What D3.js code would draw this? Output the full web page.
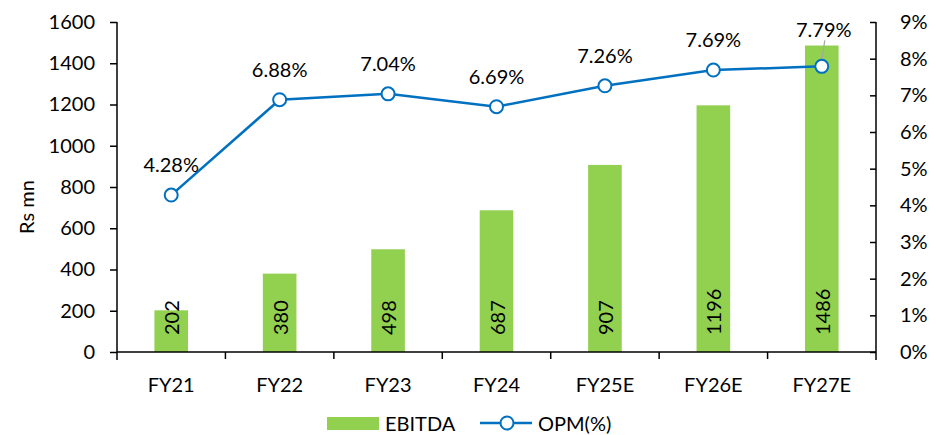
<!DOCTYPE html>
<html>
<head>
<meta charset="utf-8">
<script src="https://cdn.jsdelivr.net/npm/d3@7"></script>
<style>
  html, body { margin: 0; padding: 0; background: #fff; }
  svg text { font-family: Lato, "Open Sans", sans-serif; fill: #000; }
</style>
</head>
<body>
<svg id="chart" width="936" height="435"></svg>
<script>
// Fiscal years shown on the x axis
const categories = ["FY21", "FY22", "FY23", "FY24", "FY25E", "FY26E", "FY27E"];
// EBITDA, Rs mn
const ebitda = [202, 380, 498, 687, 907, 1196, 1486];
// Operating profit margin, %
const opm = [4.28, 6.88, 7.04, 6.69, 7.26, 7.69, 7.79];
const leftTicks = [0, 200, 400, 600, 800, 1000, 1200, 1400, 1600];
const rightTicks = [0, 1, 2, 3, 4, 5, 6, 7, 8, 9];

const svg = d3.select("#chart");
const m = { left: 117, right: 876, top: 22, bottom: 352 };
const fs = 20;

const x = d3.scaleBand().domain(categories).range([m.left, m.right]);
const yL = d3.scaleLinear().domain([0, 1600]).range([m.bottom, m.top]);
const yR = d3.scaleLinear().domain([0, 9]).range([m.bottom, m.top]);

const barW = x.bandwidth() * 0.31;

// Bars
svg.append("g").selectAll("rect").data(ebitda).join("rect")
  .attr("x", (d, i) => x(categories[i]) + x.bandwidth() / 2 - barW / 2)
  .attr("y", d => yL(d))
  .attr("width", barW)
  .attr("height", d => yL(0) - yL(d))
  .attr("fill", "#92D050");

// Bar value labels, rotated, sitting near the base
svg.append("g").selectAll("text").data(ebitda).join("text")
  .attr("transform", (d, i) => `translate(${x(categories[i]) + x.bandwidth() / 2},${yL(0) - 17}) rotate(-90)`)
  .attr("text-anchor", "start")
  .attr("dominant-baseline", "central")
  .attr("font-size", fs)
  .text(d => d);

// Left axis
const gL = svg.append("g").attr("transform", `translate(${m.left},0)`)
  .call(d3.axisLeft(yL).tickValues(leftTicks).tickFormat(d3.format("d"))
    .tickSize(7).tickSizeOuter(0).tickPadding(15));
gL.select(".domain").attr("d", `M0,${m.top}V${m.bottom + 8}`);
// Right axis with inward ticks
const gR = svg.append("g").attr("transform", `translate(${m.right},0)`)
  .call(d3.axisRight(yR).tickValues(rightTicks).tickFormat(d => d + "%").tickSize(0).tickPadding(24));
gR.select(".domain").attr("d", `M0,${m.top}V${m.bottom + 8}`);
gR.selectAll(".tick line").attr("x2", -6);
// Bottom axis with ticks on category boundaries
const gB = svg.append("g").attr("transform", `translate(0,${m.bottom})`)
  .call(d3.axisBottom(x).tickSize(0).tickPadding(24));
gB.select(".domain").attr("d", `M${m.left},0H${m.right}`);
gB.selectAll(".boundary").data(categories.slice(1)).join("line")
  .attr("class", "boundary")
  .attr("x1", d => x(d)).attr("x2", d => x(d))
  .attr("y1", 0).attr("y2", 7);

[gL, gR, gB].forEach(g => {
  g.selectAll("text").attr("font-size", fs).attr("fill", "#000");
  g.selectAll("line, path").attr("stroke", "#000").attr("stroke-width", 1.5);
});
gB.selectAll(".tick text").attr("dy", "0.35em").attr("y", 33);

// Left axis title
svg.append("text")
  .attr("transform", `translate(26,${(m.top + m.bottom) / 2 + 20}) rotate(-90)`)
  .attr("text-anchor", "middle")
  .attr("dominant-baseline", "central")
  .attr("font-size", fs)
  .text("Rs mn");

// OPM line
const cx = (d, i) => x(categories[i]) + x.bandwidth() / 2;
const line = d3.line().x(cx).y(d => yR(d));
svg.append("path").datum(opm)
  .attr("d", line)
  .attr("fill", "none")
  .attr("stroke", "#0070C0")
  .attr("stroke-width", 2.5);

// Leader line for the last label
const li = opm.length - 1;
svg.append("line")
  .attr("x1", cx(opm[li], li)).attr("y1", yR(opm[li]) - 6)
  .attr("x2", cx(opm[li], li) + 3).attr("y2", yR(opm[li]) - 26)
  .attr("stroke", "#A6A6A6").attr("stroke-width", 1.2);

svg.append("g").selectAll("circle").data(opm).join("circle")
  .attr("cx", cx)
  .attr("cy", d => yR(d))
  .attr("r", 6.5)
  .attr("fill", "#fff")
  .attr("stroke", "#0070C0")
  .attr("stroke-width", 2);

// OPM value labels
svg.append("g").selectAll("text").data(opm).join("text")
  .attr("x", (d, i) => cx(d, i) + (i === li ? 2 : 0))
  .attr("y", (d, i) => yR(d) - (i === li ? 37 : 31))
  .attr("text-anchor", "middle")
  .attr("dominant-baseline", "central")
  .attr("font-size", fs)
  .text(d => d.toFixed(2) + "%");

// Legend
const ly = 423;
const lg = svg.append("g");
lg.append("rect").attr("x", 327).attr("y", ly - 6).attr("width", 52).attr("height", 13).attr("fill", "#92D050");
lg.append("text").attr("x", 385).attr("y", ly).attr("dominant-baseline", "central").attr("font-size", fs).text("EBITDA");
lg.append("line").attr("x1", 480).attr("x2", 532).attr("y1", ly).attr("y2", ly)
  .attr("stroke", "#0070C0").attr("stroke-width", 2.5);
lg.append("circle").attr("cx", 507).attr("cy", ly).attr("r", 6.5)
  .attr("fill", "#fff").attr("stroke", "#0070C0").attr("stroke-width", 2);
lg.append("text").attr("x", 538).attr("y", ly).attr("dominant-baseline", "central").attr("font-size", fs).text("OPM(%)");
</script>
</body>
</html>
